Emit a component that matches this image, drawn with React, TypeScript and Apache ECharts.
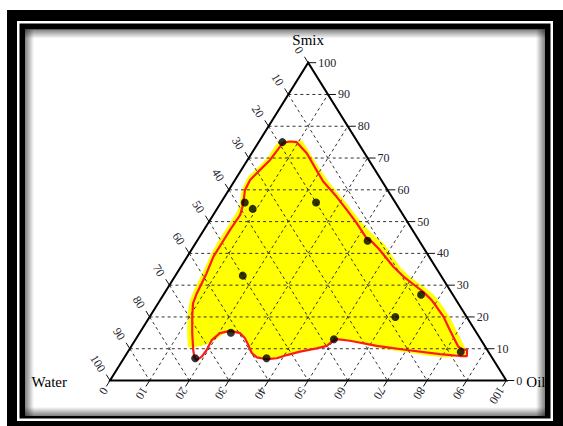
import { useEffect, useRef } from "react";
import * as echarts from "echarts";

// Tick values shared by the three ternary axes (Water, Oil, Smix, in %)
const tickValues = [0, 10, 20, 30, 40, 50, 60, 70, 80, 90, 100];

// Measured formulations (Water + Oil + Smix = 100)
const dotWater = [19, 38, 37, 20, 13, 50, 8, 18, 62, 37, 57, 75, 7];
const dotOil = [6, 6, 9, 24, 43, 17, 65, 62, 23, 50, 36, 18, 84];
const dotSmix = [75, 56, 54, 56, 44, 33, 27, 20, 15, 13, 7, 7, 9];

// Red boundary of the region (Oil %, Smix %; Water = 100 - Oil - Smix)
const outlineOil = [6.3, 7.8, 9.6, 13.9, 19.0, 22.5, 28.3, 32.9, 37.5, 42.4, 44.2, 46.9, 49.9, 53.6, 57.7, 62.6, 65.1, 68.5, 70.8, 74.1, 76.9, 79.7, 82.6, 84.2, 85.3, 86.2, 84.5, 79.1, 70.1, 61.9, 54.3, 50.7, 49.8, 49.3, 47.1, 43.4, 40.6, 38.6, 36.2, 33.4, 31.5, 29.3, 27.4, 25.4, 22.5, 20.3, 19.3, 19.6, 19.4, 18.7, 17.7, 16.2, 13.3, 10.7, 8.8, 8.2, 7.5, 6.6, 6.6, 6.6, 6.8, 6.1, 4.7, 4.1, 3.8, 4.7, 5.7, 6.1];
const outlineSmix = [74.8, 75.2, 75.0, 71.5, 66.2, 62.6, 57.8, 53.7, 49.5, 44.7, 43.7, 41.6, 39.0, 35.8, 32.7, 29.5, 27.9, 25.3, 23.2, 20.1, 16.9, 13.8, 10.6, 9.8, 9.6, 7.7, 7.7, 8.3, 9.6, 10.9, 12.5, 13.0, 12.2, 10.9, 10.1, 9.1, 8.0, 7.0, 6.7, 7.3, 8.6, 11.2, 13.3, 14.9, 15.6, 14.9, 12.7, 9.6, 7.5, 6.5, 7.2, 9.6, 14.9, 20.1, 24.3, 27.4, 33.7, 39.0, 43.2, 47.4, 52.1, 54.7, 58.4, 59.9, 63.1, 66.2, 69.4, 73.6];

// Yellow shaded region (Oil %, Smix %)
const fillOil = [4.8, 5.2, 6.1, 10.7, 13.5, 18.7, 23.6, 30.6, 37.4, 43.1, 47.7, 51.0, 55.7, 59.8, 65.6, 69.1, 72.5, 76.0, 78.6, 81.1, 84.3, 85.8, 81.4, 76.9, 71.4, 63.1, 54.3, 50.7, 49.8, 49.3, 47.1, 43.4, 40.6, 38.6, 36.2, 33.4, 31.5, 29.3, 27.4, 25.4, 22.5, 21.1, 20.1, 18.4, 15.8, 14.4, 11.5, 8.6, 7.5, 6.9, 6.3, 5.6, 5.4, 5.5, 5.5, 5.0, 3.7, 3.1, 2.8, 3.8, 4.7];
const fillSmix = [74.1, 75.4, 75.5, 75.5, 72.8, 67.5, 62.8, 56.8, 50.8, 46.1, 43.0, 39.8, 35.4, 32.3, 28.8, 26.3, 23.1, 19.7, 16.8, 14.0, 10.5, 8.0, 7.2, 7.7, 8.7, 10.1, 12.5, 13.0, 12.2, 10.9, 10.1, 9.1, 8.0, 7.0, 6.7, 7.3, 8.6, 11.2, 13.3, 14.9, 15.6, 14.3, 12.7, 11.2, 10.4, 10.5, 15.9, 22.2, 25.3, 29.1, 34.8, 39.8, 44.2, 48.6, 53.0, 55.5, 58.7, 60.9, 64.0, 67.2, 70.3];

const axisTitles = { top: "Smix", left: "Water", right: "Oil" };

// ternary (oil, smix) -> cartesian data space (0..100)
const toXY = (oil: number, smix: number) => [oil + smix / 2, smix];

const SERIF = "'Liberation Serif', 'Times New Roman', serif";

export default function App() {
  const ref = useRef<HTMLDivElement>(null);
  useEffect(() => {
    document.body.style.margin = "0";
    if (!ref.current) return;
    const chart = echarts.init(ref.current, undefined, { renderer: "svg" });

    const renderAxes = (_p: any, api: any) => {
      const P = (o: number, s: number) => api.coord(toXY(o, s));
      const A = P(0, 100);
      const W = P(0, 0);
      const O = P(100, 0);
      const unit = (a: number[], b: number[]) => {
        const dx = b[0] - a[0];
        const dy = b[1] - a[1];
        const l = Math.hypot(dx, dy);
        return [dx / l, dy / l];
      };
      const dLeft = unit(O, A);
      const dBottom = unit(A, W);
      const TICK = 7;
      const children: any[] = [];
      const dash = { stroke: "#333", lineWidth: 1, lineDash: [3, 3] };
      const tickStyle = { stroke: "#111", lineWidth: 1 };
      const addLine = (p: number[], q: number[], style: any) =>
        children.push({ type: "line", shape: { x1: p[0], y1: p[1], x2: q[0], y2: q[1] }, style });
      const labelStyle = { fill: "#23232e", fontSize: 12, fontFamily: SERIF };

      tickValues.forEach((v) => {
        if (v > 0 && v < 100) {
          addLine(P(0, v), P(100 - v, v), dash);
          addLine(P(v, 0), P(v, 100 - v), dash);
          addLine(P(0, 100 - v), P(100 - v, 0), dash);
        }
        const t = String(v);
        // Smix (right edge)
        const R = P(100 - v, v);
        addLine(R, [R[0] + TICK + 1, R[1]], tickStyle);
        children.push({
          type: "text",
          x: R[0] + TICK + 3,
          y: R[1],
          style: { ...labelStyle, text: t, align: "left", verticalAlign: "middle" },
        });
        // Water (left edge)
        const L = P(0, 100 - v);
        addLine(L, [L[0] + dLeft[0] * TICK, L[1] + dLeft[1] * TICK], tickStyle);
        const dl = 12 + 2.7 * t.length;
        children.push({
          type: "text",
          x: L[0] + dLeft[0] * dl - 1.5,
          y: L[1] + dLeft[1] * dl,
          rotation: -Math.atan2(-dLeft[1], -dLeft[0]),
          style: { ...labelStyle, text: t, align: "center", verticalAlign: "middle" },
        });
        // Oil (bottom edge)
        const B = P(v, 0);
        addLine(B, [B[0] + dBottom[0] * TICK, B[1] + dBottom[1] * TICK], tickStyle);
        const db = 9.5 + 2.7 * t.length;
        children.push({
          type: "text",
          x: B[0] + dBottom[0] * db,
          y: B[1] + dBottom[1] * db,
          rotation: -Math.atan2(dBottom[1], dBottom[0]),
          style: { ...labelStyle, text: t, align: "center", verticalAlign: "middle" },
        });
      });

      // triangle edges
      children.push({
        type: "polygon",
        shape: { points: [W, O, A] },
        style: { fill: "none", stroke: "#000", lineWidth: 2 },
      });

      const titleStyle = { fill: "#000", fontSize: 15, fontFamily: SERIF };
      children.push({
        type: "text",
        x: A[0],
        y: A[1] - 23,
        style: { ...titleStyle, text: axisTitles.top, align: "center", verticalAlign: "middle" },
      });
      children.push({
        type: "text",
        x: W[0] - 43,
        y: W[1] + 1,
        style: { ...titleStyle, text: axisTitles.left, align: "right", verticalAlign: "middle" },
      });
      children.push({
        type: "text",
        x: O[0] + 20,
        y: O[1] + 1,
        style: { ...titleStyle, text: axisTitles.right, align: "left", verticalAlign: "middle" },
      });
      return { type: "group", children };
    };

    const renderFill = (_p: any, api: any) => ({
      type: "polygon",
      shape: { points: fillOil.map((o, i) => api.coord(toXY(o, fillSmix[i]))) },
      style: { fill: "#ffff00", stroke: "none" },
    });

    const renderOutline = (_p: any, api: any) => {
      const pts = outlineOil.map((o, i) => api.coord(toXY(o, outlineSmix[i])));
      pts.push(pts[0]);
      return {
        type: "polyline",
        shape: { points: pts },
        style: { fill: "none", stroke: "#ff1a1a", lineWidth: 2.2, lineJoin: "round" },
      };
    };

    const shadow = (x0: number, y0: number, x1: number, y1: number) =>
      new echarts.graphic.LinearGradient(x0, y0, x1, y1, [
        { offset: 0, color: "rgba(0,0,0,0.5)" },
        { offset: 1, color: "rgba(0,0,0,0)" },
      ]);

    chart.setOption({
      animation: false,
      backgroundColor: "#fff",
      grid: { left: 110, right: 56.7, top: 62.7, bottom: 45.5 },
      xAxis: { type: "value", min: 0, max: 100, show: false },
      yAxis: { type: "value", min: 0, max: 100, show: false },
      graphic: {
        elements: [
          { type: "rect", z: -10, shape: { x: 7, y: 10, width: 556, height: 416 }, style: { fill: "#000" } },
          { type: "rect", z: -9, shape: { x: 17, y: 21, width: 536, height: 400 }, style: { fill: "#fff" } },
          { type: "rect", z: -8, shape: { x: 19.5, y: 23.5, width: 531, height: 395 }, style: { fill: "#000" } },
          { type: "rect", z: -7, shape: { x: 25, y: 29.5, width: 520, height: 386.5 }, style: { fill: "#fff" } },
          { type: "rect", z: -6, shape: { x: 25, y: 29.5, width: 9, height: 386.5 }, style: { fill: shadow(0, 0, 1, 0) } },
          { type: "rect", z: -6, shape: { x: 25, y: 29.5, width: 520, height: 9 }, style: { fill: shadow(0, 0, 0, 1) } },
          { type: "rect", z: -6, shape: { x: 536, y: 29.5, width: 9, height: 386.5 }, style: { fill: shadow(1, 0, 0, 0) } },
          { type: "rect", z: -6, shape: { x: 25, y: 407, width: 520, height: 9 }, style: { fill: shadow(0, 1, 0, 0) } },
        ],
      },
      series: [
        { type: "custom", renderItem: renderFill, data: [[50, 50]], silent: true, z: 2 },
        { type: "custom", renderItem: renderAxes, data: [[50, 50]], silent: true, z: 3 },
        { type: "custom", renderItem: renderOutline, data: [[50, 50]], silent: true, z: 4 },
        {
          type: "scatter",
          z: 5,
          symbolSize: 8,
          itemStyle: { color: "#000" },
          data: dotOil.map((o, i) => {
            const xy = toXY(o, dotSmix[i]);
            return { value: xy, water: dotWater[i] };
          }),
        },
      ],
    });
    return () => chart.dispose();
  }, []);
  return <div ref={ref} style={{ width: 563, height: 426 }} />;
}
